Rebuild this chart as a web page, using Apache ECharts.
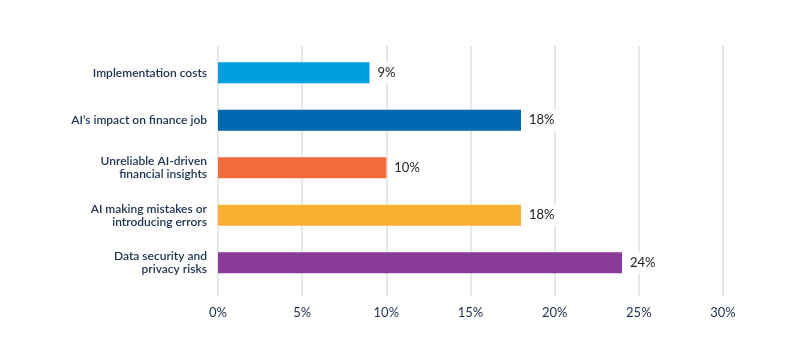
<!DOCTYPE html>
<html>
<head>
<meta charset="utf-8">
<script src="https://cdn.jsdelivr.net/npm/echarts@6/dist/echarts.min.js"></script>
<style>
  html, body { margin: 0; padding: 0; background: #fff; }
  #chart { width: 800px; height: 353px; }
</style>
</head>
<body>
<div id="chart"></div>
<script>
// top to bottom
const categories = [
  'Implementation costs',
  'AI\u2019s impact on finance job',
  'Unreliable AI-driven\nfinancial insights',
  'AI making mistakes or\nintroducing errors',
  'Data security and\nprivacy risks'
]
const values = [9, 18, 10, 18, 24]
const barColors = ['#00a0df', '#0067b1', '#f26b3c', '#fbb034', '#883b98']
const xMin = 0
const xMax = 30
const xStep = 5

const chart = echarts.init(document.getElementById('chart'))
const font = 'Lato, "Open Sans", sans-serif'

chart.setOption({
  animation: false,
  textStyle: { fontFamily: font },
  grid: [
    // gridlines grid (slightly taller than the bar area)
    { left: 218, right: 77, top: 46, bottom: 57 },
    // bars grid
    { left: 218, right: 77, top: 49, bottom: 66.5 }
  ],
  xAxis: [
    {
      gridIndex: 0,
      type: 'value',
      min: xMin,
      max: xMax,
      interval: xStep,
      axisLine: { show: false },
      axisTick: { show: false },
      splitLine: { lineStyle: { color: '#dcdfe2', width: 1.5 } },
      axisLabel: {
        formatter: '{value}%',
        color: '#1d3050',
        fontSize: 13,
        fontFamily: font,
        margin: 10
      }
    },
    {
      gridIndex: 1,
      type: 'value',
      min: xMin,
      max: xMax,
      interval: xStep,
      show: false
    }
  ],
  yAxis: [
    {
      gridIndex: 0,
      type: 'category',
      data: categories,
      inverse: true,
      show: false
    },
    {
      gridIndex: 1,
      type: 'category',
      data: categories,
      inverse: true,
      axisLine: { show: false },
      axisTick: { show: false },
      axisLabel: {
        color: '#1d3050',
        fontSize: 12,
        fontWeight: 600,
        fontFamily: font,
        lineHeight: 13,
        margin: 11,
        align: 'right'
      }
    }
  ],
  series: [
    {
      type: 'bar',
      xAxisIndex: 1,
      yAxisIndex: 1,
      barWidth: 21,
      data: values.map((v, i) => ({ value: v, itemStyle: { color: barColors[i] } })),
      label: {
        show: true,
        position: 'right',
        distance: 5,
        formatter: '{c}%',
        color: '#222',
        fontSize: 13,
        fontFamily: font,
        backgroundColor: '#fff',
        padding: [4, 3]
      }
    }
  ]
})
</script>
</body>
</html>
